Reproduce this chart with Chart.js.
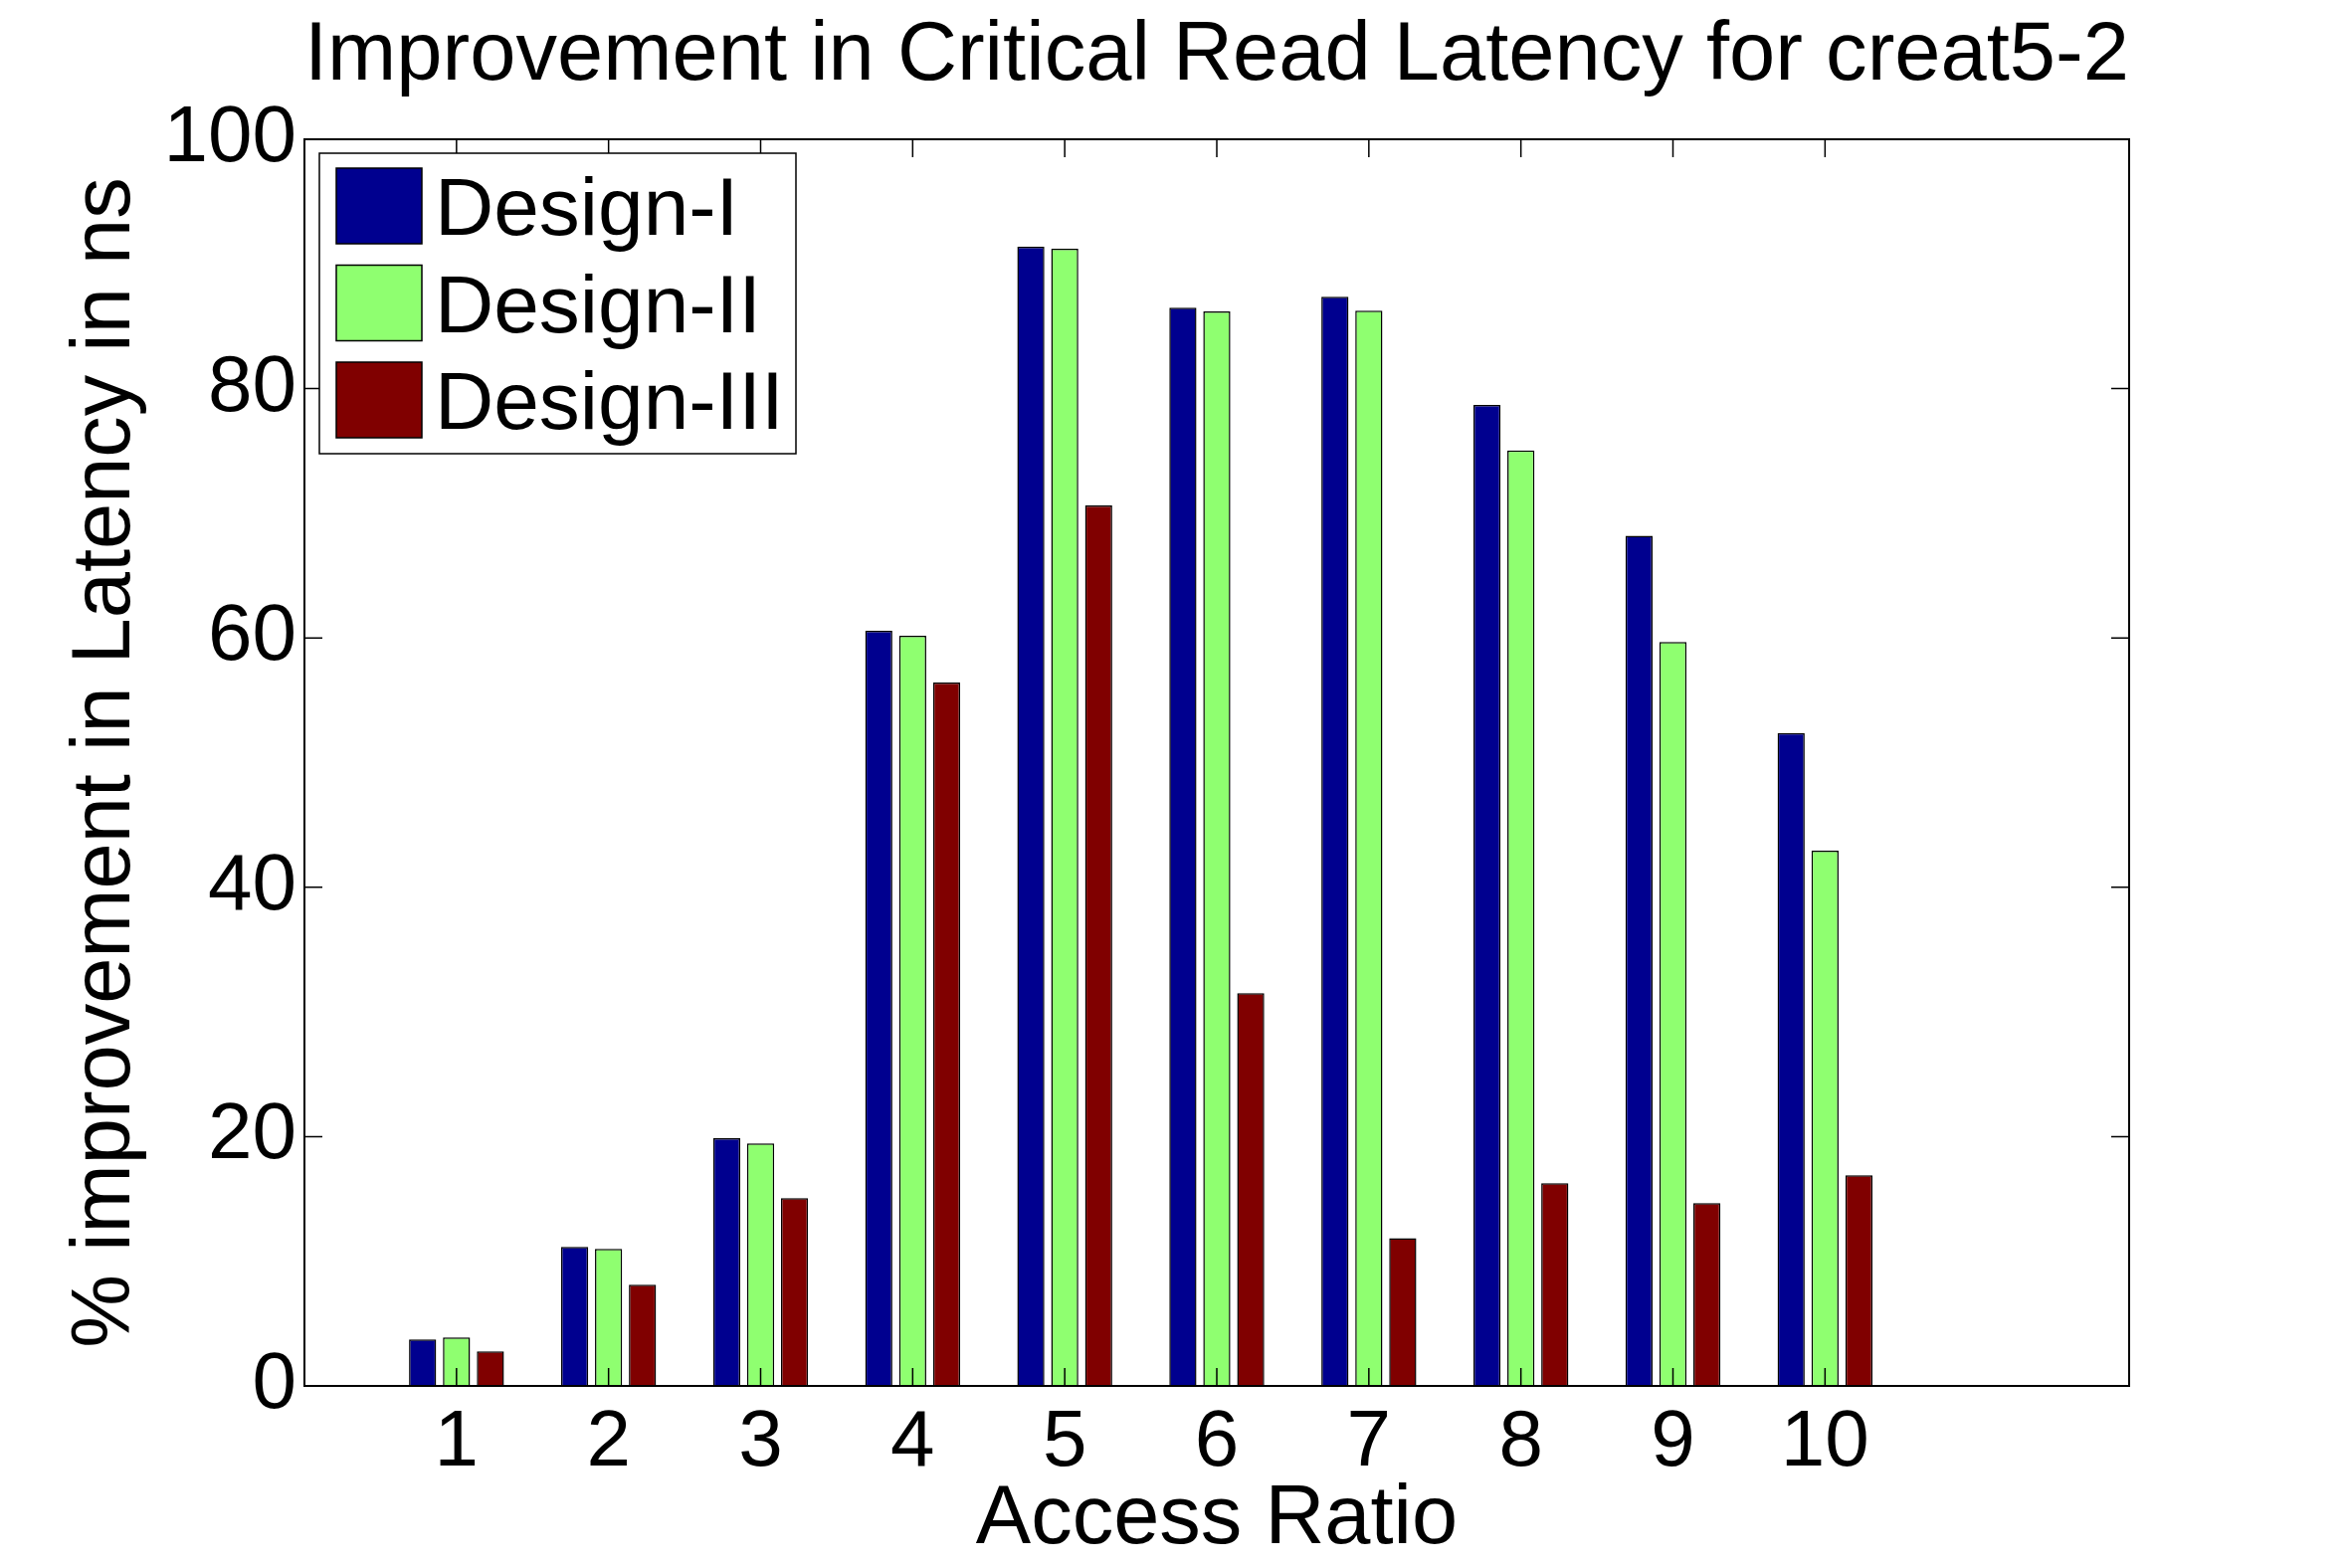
<!DOCTYPE html>
<html>
<head>
<meta charset="utf-8">
<title>Improvement in Critical Read Latency for creat5-2</title>
<script src="https://cdn.jsdelivr.net/npm/chart.js@4.4.1/dist/chart.umd.min.js"></script>
<style>
  html, body { margin: 0; padding: 0; background: #fff; }
  #chart { display: block; }
</style>
</head>
<body>
<canvas id="chart" width="2364" height="1576"></canvas>
<script>
// x axis categories (access ratio) and y tick values
const accessRatios = [1, 2, 3, 4, 5, 6, 7, 8, 9, 10];
const yTicks = [0, 20, 40, 60, 80, 100];

// % improvement in latency
const designI   = [3.73, 11.15, 19.88, 60.57, 91.39, 86.5, 87.37, 78.7, 68.2, 52.37];
const designII  = [3.89, 10.99, 19.45, 60.17, 91.23, 86.2, 86.25, 75.03, 59.67, 42.93];
const designIII = [2.77, 8.12, 15.06, 56.42, 70.63, 31.5, 11.86, 16.27, 14.67, 16.9];

const seriesNames = ['Design-I', 'Design-II', 'Design-III'];
const seriesColors = ['#00008F', '#8FFF70', '#800000'];

const FONT = '"Liberation Sans", Arial, Helvetica, sans-serif';

function toPoints(values) {
    return accessRatios.map((r, i) => ({ x: r, y: values[i] }));
}

// Matlab style box with inward ticks, plus the boxed legend in the top-left corner
const boxAndLegend = {
    id: 'boxAndLegend',
    afterDatasetsDraw(chart) {
        const { ctx, chartArea: a, scales: { x, y } } = chart;
        const tickLen = 18;
        ctx.save();
        ctx.strokeStyle = '#000';
        ctx.lineWidth = 1.5;
        ctx.beginPath();
        yTicks.forEach(v => {
            const py = y.getPixelForValue(v);
            ctx.moveTo(a.left, py); ctx.lineTo(a.left + tickLen, py);
            ctx.moveTo(a.right, py); ctx.lineTo(a.right - tickLen, py);
        });
        accessRatios.forEach(v => {
            const px = x.getPixelForValue(v);
            ctx.moveTo(px, a.bottom); ctx.lineTo(px, a.bottom - tickLen);
            ctx.moveTo(px, a.top); ctx.lineTo(px, a.top + tickLen);
        });
        ctx.stroke();
        ctx.lineWidth = 2;
        ctx.strokeRect(a.left, a.top, a.right - a.left, a.bottom - a.top);

        // legend
        const lx = a.left + 15, ly = a.top + 14, lw = 479, lh = 302;
        ctx.fillStyle = '#fff';
        ctx.fillRect(lx, ly, lw, lh);
        ctx.lineWidth = 1.5;
        ctx.strokeRect(lx, ly, lw, lh);
        ctx.font = '82px ' + FONT;
        ctx.textBaseline = 'alphabetic';
        chart.data.datasets.forEach((ds, i) => {
            const sy = ly + 15 + i * 97.5;
            ctx.fillStyle = ds.backgroundColor;
            ctx.fillRect(lx + 17, sy, 86, 76);
            ctx.strokeStyle = '#000';
            ctx.lineWidth = 1.5;
            ctx.strokeRect(lx + 17, sy, 86, 76);
            ctx.fillStyle = '#000';
            ctx.fillText(ds.label, lx + 116, sy + 38 + 0.358 * 82);
        });
        ctx.restore();
    }
};

const ctx = document.getElementById('chart').getContext('2d');

new Chart(ctx, {
    type: 'bar',
    data: {
        datasets: [
            { label: seriesNames[0], data: toPoints(designI), backgroundColor: seriesColors[0] },
            { label: seriesNames[1], data: toPoints(designII), backgroundColor: seriesColors[1] },
            { label: seriesNames[2], data: toPoints(designIII), backgroundColor: seriesColors[2] }
        ]
    },
    options: {
        responsive: false,
        animation: false,
        devicePixelRatio: 1,
        layout: { padding: { left: 0, top: 0, right: 224, bottom: 0 } },
        datasets: {
            bar: {
                borderColor: '#000',
                borderWidth: 1.5,
                categoryPercentage: 0.669,
                barPercentage: 0.8
            }
        },
        plugins: {
            legend: { display: false },
            tooltip: { enabled: false },
            title: {
                display: true,
                fullSize: false,
                text: 'Improvement in Critical Read Latency for creat5-2',
                color: '#000',
                font: { family: FONT, size: 84, weight: 'normal', lineHeight: 1 },
                padding: { top: 15, bottom: 41 }
            }
        },
        scales: {
            x: {
                type: 'linear',
                min: 0,
                max: 12,
                offset: false,
                grid: { display: false, drawTicks: false },
                border: { display: false },
                afterBuildTicks: scale => {
                    scale.ticks = accessRatios.map(v => ({ value: v }));
                },
                afterFit: scale => { scale.height = 183; },
                ticks: {
                    color: '#000',
                    padding: 18,
                    maxRotation: 0,
                    autoSkip: false,
                    font: { family: FONT, size: 80, lineHeight: 1 }
                },
                title: {
                    display: true,
                    text: 'Access Ratio',
                    color: '#000',
                    font: { family: FONT, size: 83, lineHeight: 1 },
                    padding: { top: 0, bottom: 6 }
                }
            },
            y: {
                min: 0,
                max: 100,
                grid: { display: false, drawTicks: false },
                border: { display: false },
                afterBuildTicks: scale => {
                    scale.ticks = yTicks.map(v => ({ value: v }));
                },
                afterFit: scale => { scale.width = 306; },
                ticks: {
                    color: '#000',
                    padding: 8,
                    font: { family: FONT, size: 80, lineHeight: 1 }
                },
                title: {
                    display: true,
                    text: '% improvement in Latency in ns',
                    color: '#000',
                    font: { family: FONT, size: 83, lineHeight: 1 },
                    padding: { top: 66, bottom: 0 }
                }
            }
        }
    },
    plugins: [boxAndLegend]
});
</script>
</body>
</html>
